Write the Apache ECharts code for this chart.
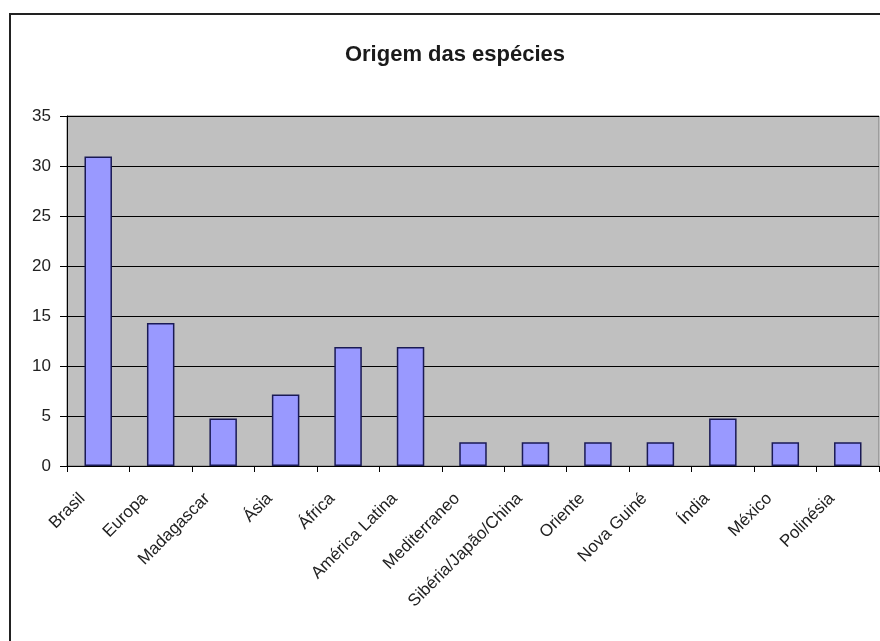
<!DOCTYPE html>
<html>
<head>
<meta charset="utf-8">
<script src="https://cdn.jsdelivr.net/npm/echarts@6/dist/echarts.min.js"></script>
<style>
  html, body { margin: 0; padding: 0; background: #fff; }
  #chart { width: 880px; height: 641px; }
</style>
</head>
<body>
<div id="chart"></div>
<script>
  const categories = [
    "Brasil", "Europa", "Madagascar", "Ásia", "África", "América Latina",
    "Mediterraneo", "Sibéria/Japão/China", "Oriente", "Nova Guiné",
    "Índia", "México", "Polinésia"
  ];
  const percentages = [30.95, 14.29, 4.76, 7.14, 11.9, 11.9, 2.38, 2.38, 2.38, 2.38, 4.76, 2.38, 2.38];
  const yTicks = [0, 5, 10, 15, 20, 25, 30, 35];

  const font = "'Liberation Sans', Arial, sans-serif";

  const chart = echarts.init(document.getElementById("chart"));
  chart.setOption({
    animation: false,
    backgroundColor: "#ffffff",
    title: {
      text: "Origem das espécies",
      left: 450,
      top: 39,
      textAlign: "center",
      textStyle: { fontFamily: font, fontSize: 22, fontWeight: "bold", color: "#1a1a1a" },
    },
    // outer chart frame, cut off at the right and bottom like the source
    graphic: [{
      type: "rect",
      shape: { x: 10, y: 14, width: 900, height: 700 },
      style: { fill: "none", stroke: "#222", lineWidth: 2 },
      z: 100,
    }],
    grid: {
      left: 67, right: 1, top: 116, bottom: 175,
      show: true,
      backgroundColor: "#c0c0c0",
      borderColor: "#7a7a7a",
      borderWidth: 1,
    },
    xAxis: {
      type: "category",
      data: categories,
      axisLine: { lineStyle: { color: "#000", width: 1 } },
      axisTick: { show: true, length: 6, lineStyle: { color: "#000" } },
      axisLabel: {
        rotate: 45,
        interval: 0,
        margin: 2,
        align: "right",
        verticalAlign: "top",
        padding: [0, 31, 0, 0],
        fontFamily: font,
        fontSize: 17,
        color: "#222",
      },
    },
    yAxis: {
      type: "value",
      min: yTicks[0],
      max: yTicks[yTicks.length - 1],
      interval: 5,
      axisLine: { show: true, lineStyle: { color: "#000", width: 1 } },
      axisTick: { show: true, length: 7, lineStyle: { color: "#000" } },
      splitLine: { lineStyle: { color: "#000", width: 1 } },
      axisLabel: { fontFamily: font, fontSize: 17, color: "#222", margin: 16 },
    },
    series: [{
      type: "bar",
      data: percentages,
      barWidth: "44%",
      itemStyle: { color: "#9999ff", borderColor: "#1a1a55", borderWidth: 1.5 },
    }],
  });
</script>
</body>
</html>
